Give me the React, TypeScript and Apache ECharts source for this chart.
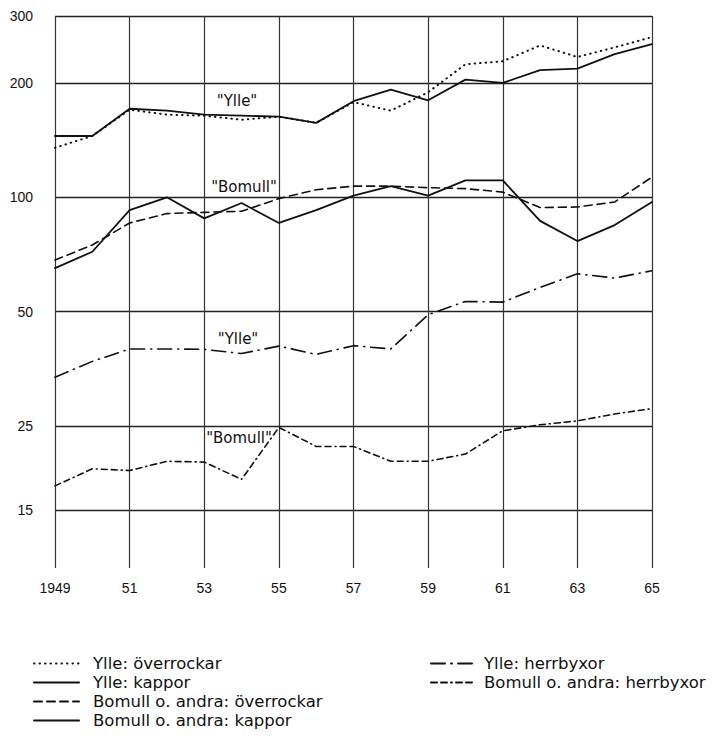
import React, { useEffect, useRef } from 'react';
import * as echarts from 'echarts';

const years = [1949, 1950, 1951, 1952, 1953, 1954, 1955, 1956, 1957, 1958, 1959, 1960, 1961, 1962, 1963, 1964, 1965];
const ylleOverrockar = [135, 145, 170, 165, 164, 160, 163, 157, 178, 169, 189, 224, 228, 251, 234, 248, 264];
const ylleKappor = [145, 145, 171, 169, 165, 164, 163, 157, 179, 192, 180, 204, 200, 216, 218, 238, 253];
const bomullOverrockar = [68.4, 74.9, 85.6, 90.6, 91.3, 91.9, 99.2, 104.7, 107, 107, 106, 105.4, 103.2, 94, 94.3, 97.2, 113];
const bomullKappor = [65.1, 71.9, 92.5, 100, 88, 96.6, 85.6, 92.5, 101, 107, 101, 110.8, 110.8, 86.7, 76.7, 84.5, 97.2];
const ylleHerrbyxor = [33.6, 37.0, 39.9, 39.9, 39.8, 38.8, 40.6, 38.6, 40.7, 39.9, 49.1, 53.2, 53.0, 57.9, 62.9, 61.3, 64.1];
const bomullHerrbyxor = [17.4, 19.3, 19.1, 20.2, 20.1, 18.1, 24.8, 22.1, 22.1, 20.2, 20.2, 21.1, 24.3, 25.2, 25.8, 26.9, 27.8];

const xTicks = [1949, 1951, 1953, 1955, 1957, 1959, 1961, 1963, 1965];
const yTicks = [15, 25, 50, 100, 200, 300];

const names = {
  yO: 'Ylle: överrockar',
  yK: 'Ylle: kappor',
  bO: 'Bomull o. andra: överrockar',
  bK: 'Bomull o. andra: kappor',
  yH: 'Ylle: herrbyxor',
  bH: 'Bomull o. andra: herrbyxor',
};

const FONT = '"Liberation Sans", Arial, sans-serif';
const WIDE = '"DejaVu Sans", Verdana, sans-serif';
const INK = '#111';

function pairs(arr: number[]) {
  return years.map((y, i) => [y, arr[i]]);
}

export default function App() {
  const ref = useRef<HTMLDivElement>(null);
  useEffect(() => {
    if (!ref.current) return;
    const chart = echarts.init(ref.current, undefined, { renderer: 'svg' });
    const mk = (name: string, arr: number[], width: number, type: any, z = 2) => ({
      name,
      type: 'line',
      data: pairs(arr),
      symbol: 'none',
      z,
      lineStyle: { color: INK, width, type, cap: 'round' },
      itemStyle: { color: INK },
    });
    const legendBase = {
      orient: 'vertical',
      top: 655,
      padding: 0,
      itemHeight: 14,
      itemGap: 2,
      selectedMode: false,
      itemStyle: { opacity: 0 },
    };
    chart.setOption({
      animation: false,
      backgroundColor: '#fff',
      grid: { left: 55, right: 64, top: 16, bottom: 182, containLabel: false },
      xAxis: {
        type: 'value',
        min: 1949,
        max: 1965,
        axisLine: { show: false },
        axisTick: { show: false, customValues: xTicks },
        axisLabel: {
          customValues: xTicks,
          margin: 13,
          fontSize: 14,
          color: INK,
          fontFamily: FONT,
          formatter: (v: number) => (v === 1949 ? '1949' : String(v).slice(2)),
        },
        splitLine: { show: true, lineStyle: { color: '#333', width: 1.2 } },
      },
      yAxis: {
        type: 'log',
        logBase: 10,
        min: 10.58,
        max: 300,
        axisLine: { show: false },
        axisTick: { show: false, customValues: yTicks },
        axisLabel: {
          customValues: yTicks,
          margin: 22,
          fontSize: 14,
          color: INK,
          fontFamily: FONT,
        },
        splitLine: { show: true, lineStyle: { color: '#222', width: 1.3 } },
      },
      legend: [
        {
          ...legendBase,
          left: 33,
          itemWidth: 45,
          data: [names.yO, names.yK, names.bO, names.bK],
          textStyle: { fontSize: 16.5, color: INK, fontFamily: WIDE, padding: [0, 0, 0, 9] },
        },
        {
          ...legendBase,
          left: 430,
          itemWidth: 42,
          data: [names.yH, names.bH],
          textStyle: { fontSize: 16.5, color: INK, fontFamily: WIDE, padding: [0, 0, 0, 6] },
        },
      ],
      graphic: [
        { type: 'text', x: 237, y: 101, style: { text: '"Ylle"', font: `15px ${WIDE}`, fill: INK, align: 'center', verticalAlign: 'middle' } },
        { type: 'text', x: 244, y: 187, style: { text: '"Bomull"', font: `15px ${WIDE}`, fill: INK, align: 'center', verticalAlign: 'middle' } },
        { type: 'text', x: 238, y: 339, style: { text: '"Ylle"', font: `15px ${WIDE}`, fill: INK, align: 'center', verticalAlign: 'middle' } },
        { type: 'text', x: 239, y: 438, style: { text: '"Bomull"', font: `15px ${WIDE}`, fill: INK, align: 'center', verticalAlign: 'middle' } },
      ],
      series: [
        mk(names.yO, ylleOverrockar, 2, [0.5, 5]),
        mk(names.yK, ylleKappor, 1.8, 'solid', 3),
        mk(names.bO, bomullOverrockar, 1.6, [8, 5]),
        mk(names.bK, bomullKappor, 1.8, 'solid', 3),
        mk(names.yH, ylleHerrbyxor, 1.6, [14, 6, 1, 6]),
        mk(names.bH, bomullHerrbyxor, 1.6, [6, 4, 6, 4, 1, 4]),
      ],
    });
    return () => chart.dispose();
  }, []);
  return <div ref={ref} style={{ position: 'fixed', left: 0, top: 0, width: 716, height: 750 }} />;
}
